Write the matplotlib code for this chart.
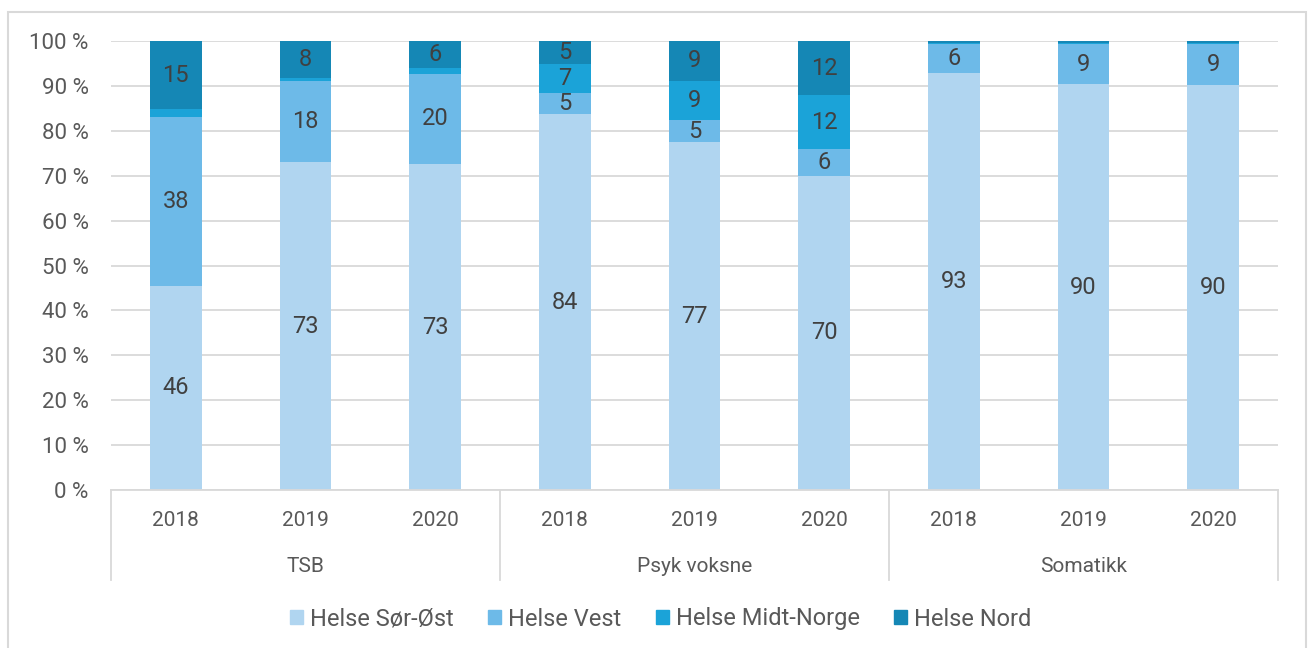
import matplotlib
matplotlib.use("Agg")
import matplotlib.pyplot as plt
from matplotlib.patches import Rectangle
from matplotlib.lines import Line2D
import numpy as np

plt.rcParams['font.family'] = ['Roboto', 'DejaVu Sans']

groups = ["TSB", "Psyk voksne", "Somatikk"]
years = ["2018", "2019", "2020"]
series = ["Helse Sør-Øst", "Helse Vest", "Helse Midt-Norge", "Helse Nord"]
colors = ["#B0D5F0", "#6DBAE8", "#1BA3D8", "#1587B5"]

sor_ost = [45.5, 73.0, 72.6, 83.7, 77.5, 70.0, 92.9, 90.4, 90.2]
vest = [37.6, 18.2, 20.1, 4.7, 4.9, 6.0, 6.4, 8.9, 9.1]
midt = [1.7, 0.5, 1.3, 6.5, 8.7, 11.9, 0.3, 0.3, 0.3]
nord = [15.2, 8.3, 6.0, 5.1, 8.9, 12.1, 0.4, 0.4, 0.4]

lab_sor = ["46", "73", "73", "84", "77", "70", "93", "90", "90"]
lab_vest = ["38", "18", "20", "5", "5", "6", "6", "9", "9"]
lab_midt = ["", "", "", "7", "9", "12", "", "", ""]
lab_nord = ["15", "8", "6", "5", "9", "12", "", "", ""]

W, H = 1309, 648
fig = plt.figure(figsize=(W / 100, H / 100), dpi=100)
ax = fig.add_axes([111 / W, 1 - 490 / H, (1278 - 111) / W, (490 - 41) / H])

lab_col = "#404040"
txt_col = "#595959"
grid_col = "#D9D9D9"
fs_x = 15
fs_y = 16
fs_lab = 17
fs_leg = 17

x = np.arange(len(sor_ost))
data = [sor_ost, vest, midt, nord]
labels = [lab_sor, lab_vest, lab_midt, lab_nord]
bottom = np.zeros(len(x))
for vals, col, name, labs in zip(data, colors, series, labels):
    vals = np.array(vals)
    ax.bar(x, vals, 0.4, bottom=bottom, color=col, label=name, zorder=2)
    for xi, b, v, l in zip(x, bottom, vals, labs):
        if l:
            ax.text(xi, b + v / 2, l, ha="center", va="center", fontsize=fs_lab, color=lab_col, zorder=3)
    bottom += vals

ax.set_xlim(-0.5, len(x) - 0.5)
ax.set_ylim(0, 100)
ax.set_yticks(np.arange(0, 101, 10))
ax.set_yticklabels([f"{t} %" for t in range(0, 101, 10)], fontsize=fs_y, color=txt_col)
ax.yaxis.grid(True, color=grid_col, linewidth=1.3, zorder=0)
ax.set_axisbelow(True)
ax.tick_params(axis="y", length=0, pad=16)
ax.set_xticks([])
for s in ["top", "right", "left"]:
    ax.spines[s].set_visible(False)
ax.spines["bottom"].set_color(grid_col)
ax.spines["bottom"].set_linewidth(1.3)

ah = 490 - 41
ytick = -30 / ah
ygrp = -76 / ah
ysep = -90 / ah
trans = ax.get_xaxis_transform()
for i, xi in enumerate(x):
    ax.text(xi, ytick, years[i % 3], ha="center", va="center", fontsize=fs_x, color=txt_col, transform=trans)
for g, name in enumerate(groups):
    ax.text(3 * g + 1, ygrp, name, ha="center", va="center", fontsize=fs_x, color=txt_col, transform=trans)
for xs in [-0.5, 2.5, 5.5, 8.5]:
    ax.add_line(Line2D([xs, xs], [0, ysep], transform=trans, color=grid_col, linewidth=1.3, clip_on=False))

handles = [Rectangle((0, 0), 1, 1, color=c) for c in colors]
fig.legend(handles, series, loc="center", bbox_to_anchor=(661 / W, 1 - 619 / H), ncol=4,
           frameon=False, fontsize=fs_leg, handlelength=0.55, handleheight=0.55, handletextpad=0.3,
           columnspacing=1.45, labelcolor=txt_col)

fig.patches.append(Rectangle((8 / W, -0.01), (1306 - 8) / W, 1 - 12 / H + 0.01, transform=fig.transFigure,
                             fill=False, edgecolor=grid_col, linewidth=1.5))

fig.savefig("out.png", dpi=100)
